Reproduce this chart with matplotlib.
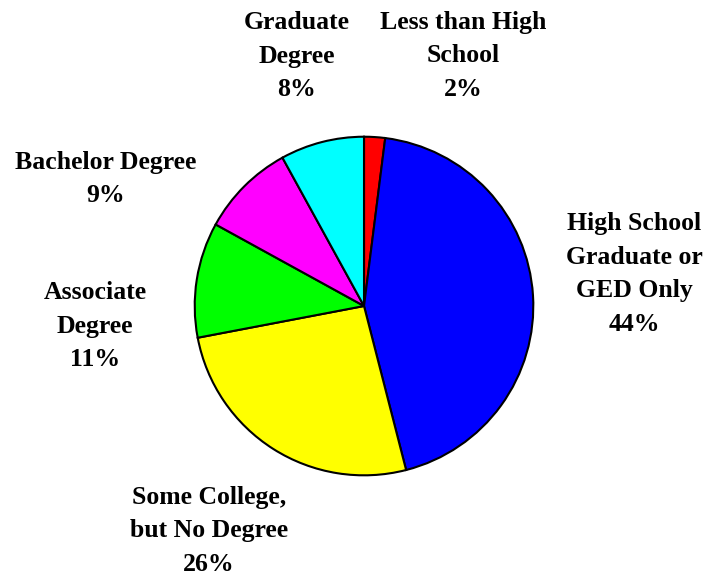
import matplotlib.pyplot as plt

categories = ['Less than High\nSchool', 'High School\nGraduate or\nGED Only',
              'Some College,\nbut No Degree', 'Associate\nDegree',
              'Bachelor Degree', 'Graduate\nDegree']
shares = [2, 44, 26, 11, 9, 8]
colors = ['#FF0000', '#0000FF', '#FFFF00', '#00FF00', '#FF00FF', '#00FFFF']

# label centres in figure pixels (x, y from top)
label_pos = [(463, 56), (634, 274), (209, 531), (95, 326), (106, 179), (297, 56)]

plt.rcParams['font.family'] = ['Liberation Serif', 'DejaVu Serif']

fig = plt.figure(figsize=(7.06, 5.78), dpi=100)
ax = fig.add_axes([0.2734, 0.1747, 0.4844, 0.5917])
ax.pie(shares, colors=colors, startangle=90, counterclock=False,
       wedgeprops=dict(edgecolor='black', linewidth=1.5))
ax.set_xlim(-1.01, 1.01)
ax.set_ylim(-1.01, 1.01)
ax.set_aspect('equal')
ax.axis('off')

for cat, s, (px, py) in zip(categories, shares, label_pos):
    fig.text(px / 706, 1 - py / 578, f'{cat}\n{s}%', ha='center', va='center',
             fontsize=18.5, fontweight='bold', linespacing=1.58)

fig.savefig('out.png', dpi=100)
